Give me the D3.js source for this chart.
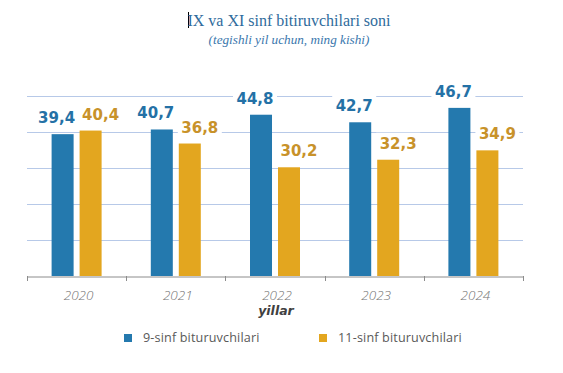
<!DOCTYPE html>
<html lang="en">
<head>
<meta charset="UTF-8">
<title>IX va XI sinf bitiruvchilari soni</title>
<style>
  body { margin: 0; background: #fff; }
  svg { display: block; }
</style>
</head>
<body>
<div id="chart"></div>
<script src="https://cdn.jsdelivr.net/npm/d3@7/dist/d3.min.js"></script>
<script>
// data
const years = ['2020', '2021', '2022', '2023', '2024'];
const grade9 = [39.4, 40.7, 44.8, 42.7, 46.7];
const grade11 = [40.4, 36.8, 30.2, 32.3, 34.9];
const seriesNames = ['9-sinf bituruvchilari', '11-sinf bituruvchilari'];
const gridTicks = [10, 20, 30, 40, 50];

const width = 563, height = 373;
const blue = '#2479ae', gold = '#e3a61f';
const blueText = '#2471a6', goldText = '#c8922a';

const svg = d3.select('#chart').append('svg')
  .attr('width', width)
  .attr('height', height);

// title + subtitle
svg.append('line')
  .attr('x1', 188.5).attr('x2', 188.5)
  .attr('y1', 12).attr('y2', 28)
  .attr('stroke', '#000').attr('stroke-width', 1);

svg.append('text')
  .attr('x', 289).attr('y', 26)
  .attr('text-anchor', 'middle')
  .style('font-family', '"Liberation Serif", serif')
  .style('font-size', '16px')
  .attr('fill', '#2f6b9c')
  .text('IX va XI sinf bitiruvchilari soni');

svg.append('text')
  .attr('x', 289).attr('y', 44)
  .attr('text-anchor', 'middle')
  .style('font-family', '"Liberation Serif", serif')
  .style('font-size', '13.2px')
  .style('font-style', 'italic')
  .attr('fill', '#3a77ad')
  .text('(tegishli yil uchun, ming kishi)');

const x = d3.scaleBand().domain(years).range([27, 523]);
const y = d3.scaleLinear().domain([0, 50]).range([276, 96]);
const bw = x.bandwidth();
const x1 = d3.scaleBand().domain([0, 1])
  .range([bw / 2 - 25, bw / 2 + 25])
  .paddingInner(0.214);

// gridlines
svg.append('g')
  .selectAll('line')
  .data(gridTicks)
  .join('line')
  .attr('x1', 27).attr('x2', 523)
  .attr('y1', d => Math.round(y(d)) + 0.5)
  .attr('y2', d => Math.round(y(d)) + 0.5)
  .attr('stroke', '#b7c9e8')
  .attr('stroke-width', 1);

// bars
const series = [grade9, grade11];
const colors = [blue, gold];
const textColors = [blueText, goldText];
const labelShift = [-6, 10];

series.forEach((vals, s) => {
  const g = svg.append('g');
  g.selectAll('rect')
    .data(vals)
    .join('rect')
    .attr('x', (d, i) => x(years[i]) + x1(s))
    .attr('y', d => y(d))
    .attr('width', x1.bandwidth())
    .attr('height', d => y(0) - y(d))
    .attr('fill', colors[s]);
});

// value labels with white backing
const fmt = v => v.toFixed(1).replace('.', ',');
series.forEach((vals, s) => {
  const g = svg.append('g');
  vals.forEach((v, i) => {
    const cx = x(years[i]) + x1(s) + x1.bandwidth() / 2 + labelShift[s];
    const by = y(v) - 11;
    g.append('rect')
      .attr('x', cx - 22).attr('y', by - 16)
      .attr('width', 44).attr('height', 20)
      .attr('fill', '#fff');
    g.append('text')
      .attr('x', cx).attr('y', by)
      .attr('text-anchor', 'middle')
      .style('font-family', '"DejaVu Sans", Verdana, sans-serif')
      .style('font-size', '15px')
      .style('font-weight', 'bold')
      .attr('fill', textColors[s])
      .text(fmt(v));
  });
});

// x axis
const xAxis = d3.axisBottom(x).tickSize(0).tickFormat('');
const ax = svg.append('g')
  .attr('transform', 'translate(0,276.5)')
  .call(xAxis);
ax.select('.domain').attr('stroke', '#8c8c8c');
ax.selectAll('.tick').remove();

svg.append('g')
  .selectAll('line')
  .data(years.concat(['end']))
  .join('line')
  .attr('x1', (d, i) => Math.round(i < years.length ? x(d) : x.range()[1]) + 0.5)
  .attr('x2', (d, i) => Math.round(i < years.length ? x(d) : x.range()[1]) + 0.5)
  .attr('y1', 276).attr('y2', 281)
  .attr('stroke', '#8c8c8c');

svg.append('g')
  .selectAll('text')
  .data(years)
  .join('text')
  .attr('x', d => x(d) + bw / 2 + 2)
  .attr('y', 300)
  .attr('text-anchor', 'middle')
  .style('font-family', '"Open Sans", sans-serif')
  .style('font-size', '13.5px')
  .style('font-style', 'italic')
  .style('font-weight', 300)
  .attr('fill', '#747474')
  .text(d => d);

svg.append('text')
  .attr('x', 276).attr('y', 315)
  .attr('text-anchor', 'middle')
  .style('font-family', '"DejaVu Sans", Verdana, sans-serif')
  .style('font-size', '12.5px')
  .style('font-style', 'italic')
  .style('font-weight', 'bold')
  .attr('fill', '#404040')
  .text('yillar');

// legend
const legendX = [124, 319];
const legend = svg.append('g');
seriesNames.forEach((name, s) => {
  legend.append('rect')
    .attr('x', legendX[s]).attr('y', 334)
    .attr('width', 8).attr('height', 8)
    .attr('fill', colors[s]);
  legend.append('text')
    .attr('x', legendX[s] + 19).attr('y', 342)
    .style('font-family', '"Open Sans", sans-serif')
    .style('font-size', '12.6px')
    .style('letter-spacing', '0.15px')
    .attr('fill', '#595959')
    .text(name);
});
</script>
</body>
</html>
